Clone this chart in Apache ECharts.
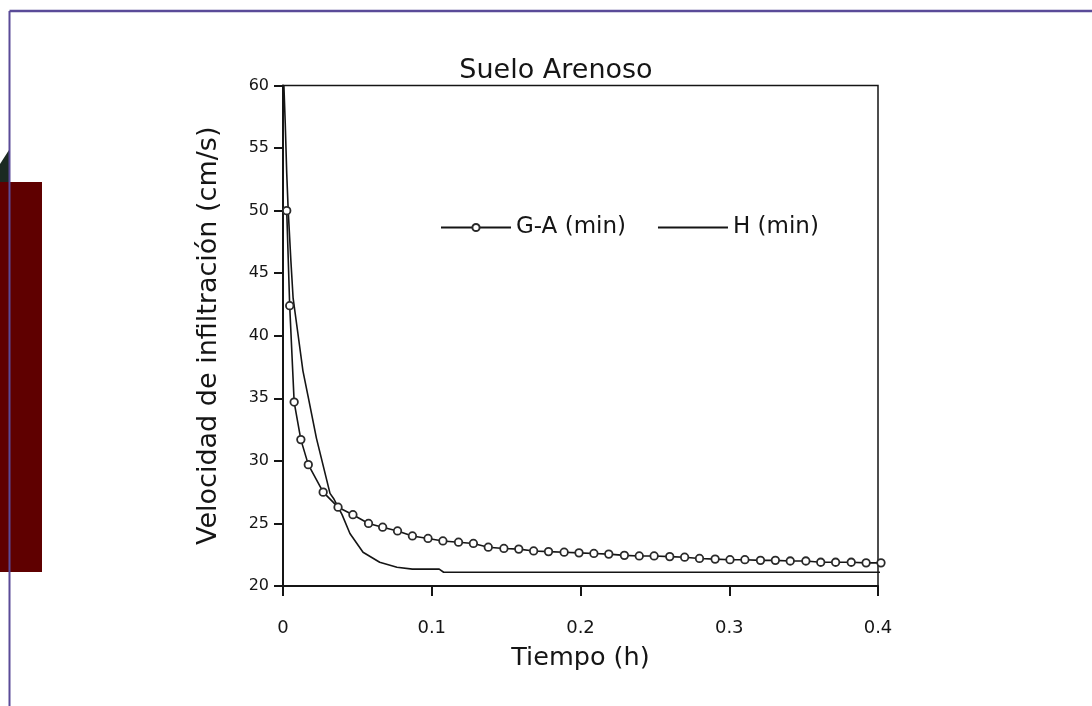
<!DOCTYPE html>
<html>
<head>
<meta charset="utf-8">
<script src="https://cdn.jsdelivr.net/npm/echarts@6/dist/echarts.min.js"></script>
<style>
html,body{margin:0;padding:0;background:#fff;}
#c{width:1092px;height:706px;}
</style>
</head>
<body>
<div id="c"></div>
<script>
// ---- data ----
var titleText = 'Suelo Arenoso';
var xName = 'Tiempo (h)';
var yName = 'Velocidad de infiltración (cm/s)';
var seriesNames = ['G-A (min)', 'H (min)'];

var gaTime = [0.0025,0.0045,0.0075,0.0120,0.0170,0.0270,0.0370,0.0470,0.0575,0.0670,0.0770,0.0870,0.0975,0.1075,0.1180,0.1280,0.1380,0.1485,0.1585,0.1685,0.1785,0.1890,0.1990,0.2090,0.2190,0.2295,0.2395,0.2495,0.2600,0.2700,0.2800,0.2905,0.3005,0.3105,0.3210,0.3310,0.3410,0.3515,0.3615,0.3715,0.3820,0.3920,0.4020];
var gaValue = [50.0,42.4,34.7,31.7,29.7,27.5,26.3,25.7,25.0,24.7,24.4,24.0,23.8,23.6,23.5,23.4,23.1,23.0,22.95,22.8,22.75,22.7,22.65,22.6,22.55,22.45,22.4,22.4,22.35,22.3,22.2,22.15,22.1,22.1,22.05,22.05,22.0,22.0,21.9,21.9,21.9,21.85,21.85];

var hTime = [0.0006,0.0015,0.0025,0.0035,0.0053,0.0068,0.0100,0.0134,0.0168,0.0225,0.0316,0.0340,0.0397,0.0450,0.0538,0.0650,0.0766,0.0870,0.1050,0.1080,0.4080];
var hValue = [60.0,57.0,53.0,50.0,46.0,43.0,40.2,37.2,35.2,31.8,27.4,27.0,25.7,24.2,22.7,21.9,21.5,21.35,21.35,21.1,21.1];

var xTicks = [0, 0.1, 0.2, 0.3, 0.4];
var yTicks = [20, 25, 30, 35, 40, 45, 50, 55, 60];

function pairs(a, b){ return a.map(function(v,i){ return [v, b[i]]; }); }

var chart = echarts.init(document.getElementById('c'));
var FONT = 'DejaVu Sans, Verdana, sans-serif';
var INK = '#151515';

chart.setOption({
  backgroundColor: '#ffffff',
  animation: false,
  graphic: [
    { type: 'rect', z: 0, shape: { x: 0, y: 182, width: 42, height: 390 }, style: { fill: '#5f0000' } },
    { type: 'polygon', z: 0, shape: { points: [[0,164],[9,150],[9,182],[0,182]] }, style: { fill: '#1b2a22' } },
    { type: 'line', z: 1, shape: { x1: 9.5, y1: 11, x2: 1092, y2: 11 }, style: { stroke: '#5a4b98', lineWidth: 2.5 } },
    { type: 'line', z: 1, shape: { x1: 9.5, y1: 11, x2: 9.5, y2: 706 }, style: { stroke: '#5a4b98', lineWidth: 2 } },
    { type: 'text', z: 5, x: 556, y: 71, style: { text: titleText, font: '27px ' + FONT, fill: INK, textAlign: 'center', textVerticalAlign: 'middle' } }
  ],
  grid: {
    left: 283, right: 214, top: 85.5, bottom: 120,
    show: true, borderColor: INK, borderWidth: 1.5, backgroundColor: 'transparent'
  },
  legend: {
    left: 435, top: 211,
    itemWidth: 70, itemHeight: 9, itemGap: 31,
    data: [
      { name: seriesNames[0] },
      { name: seriesNames[1], itemStyle: { color: 'rgba(0,0,0,0)', borderWidth: 0 } }
    ],
    textStyle: { fontFamily: FONT, fontSize: 23, color: INK }
  },
  xAxis: {
    type: 'value', min: 0, max: 0.4, interval: 0.1,
    name: xName, nameLocation: 'middle', nameGap: 59,
    nameTextStyle: { fontFamily: FONT, fontSize: 25.5, color: INK },
    axisLine: { show: true, onZero: false, lineStyle: { color: INK, width: 2 } },
    axisTick: { show: true, inside: false, length: 10, lineStyle: { color: INK, width: 2 } },
    axisLabel: { margin: 33, fontFamily: FONT, fontSize: 18, color: INK,
      formatter: function(v){ return xTicks.indexOf(+v.toFixed(2)) >= 0 ? String(+v.toFixed(2)) : ''; } },
    splitLine: { show: false }
  },
  yAxis: {
    type: 'value', min: 20, max: 60, interval: 5,
    name: yName, nameLocation: 'middle', nameGap: 61, nameRotate: 90,
    nameTextStyle: { fontFamily: FONT, fontSize: 27, color: INK },
    axisLine: { show: true, onZero: false, lineStyle: { color: INK, width: 2 } },
    axisTick: { show: true, inside: false, length: 9, lineStyle: { color: INK, width: 2 } },
    axisLabel: { margin: 14, fontFamily: FONT, fontSize: 16, color: INK,
      formatter: function(v){ return yTicks.indexOf(v) >= 0 ? String(v) : ''; } },
    splitLine: { show: false }
  },
  series: [
    {
      name: seriesNames[0], type: 'line', clip: false,
      data: pairs(gaTime, gaValue),
      symbol: 'circle', symbolSize: 7.5, showAllSymbol: true,
      lineStyle: { color: INK, width: 1.6 },
      itemStyle: { color: '#ffffff', borderColor: '#2a2a2a', borderWidth: 1.8 },
      z: 3
    },
    {
      name: seriesNames[1], type: 'line', clip: false,
      data: pairs(hTime, hValue),
      symbol: 'none', smooth: false,
      lineStyle: { color: INK, width: 1.6 },
      itemStyle: { color: INK },
      z: 2
    }
  ]
});
</script>
</body>
</html>
